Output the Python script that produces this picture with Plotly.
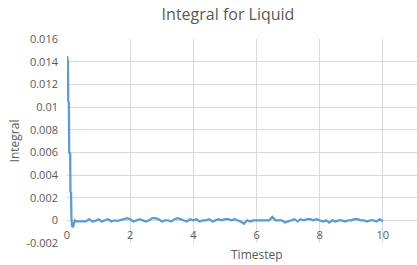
import plotly.graph_objects as go

timestep = [0, 0.01, 0.03, 0.04, 0.06, 0.07, 0.10, 0.11, 0.13, 0.14, 0.16, 0.19, 0.22, 0.25,
            0.3, 0.4, 0.5, 0.6, 0.7, 0.8, 0.9, 1.0, 1.1, 1.2, 1.3, 1.4, 1.5, 1.6, 1.7, 1.8, 1.9,
            2.0, 2.1, 2.2, 2.3, 2.4, 2.5, 2.6, 2.7, 2.8, 2.9, 3.0, 3.1, 3.2, 3.3, 3.4, 3.5, 3.6,
            3.7, 3.8, 3.9, 4.0, 4.1, 4.2, 4.3, 4.4, 4.5, 4.6, 4.7, 4.8, 4.9, 5.0, 5.1, 5.2, 5.3,
            5.4, 5.5, 5.6, 5.7, 5.8, 5.9, 6.0, 6.1, 6.2, 6.3, 6.4, 6.5, 6.6, 6.7, 6.8, 6.9, 7.0,
            7.1, 7.2, 7.3, 7.4, 7.5, 7.6, 7.7, 7.8, 7.9, 8.0, 8.1, 8.2, 8.3, 8.4, 8.5, 8.6, 8.7,
            8.8, 8.9, 9.0, 9.1, 9.2, 9.3, 9.4, 9.5, 9.6, 9.7, 9.8, 9.9, 10.0]

integral = [0.0145, 0.0140, 0.0139, 0.0105, 0.0104, 0.0060, 0.0059, 0.0025, 0.0024, 0.0002,
            -0.0005, -0.0006, -0.0003, 0.0,
            -0.0001, -0.0001, -0.00005, -0.0001, 0.0001, -0.0001, -0.00005, 0.0001, -0.0001,
            0.0, 0.0001, -0.0001, 0.0, -0.00005, 0.0, 0.0001, 0.0002,
            0.0001, -0.0001, 0.0, 0.0001, 0.0, -0.0001, 0.0, 0.0002, 0.0002, 0.0001, -0.0001,
            0.0, 0.0, -0.0001, 0.0001, 0.0002, 0.0001,
            0.0, -0.0001, 0.0001, 0.0, 0.0001, -0.0001, 0.0, 0.0, 0.0001, -0.0001, 0.0, 0.0001,
            0.0, 0.0001, 0.0001, 0.0, 0.0001,
            0.0, -0.0001, -0.0003, 0.0, -0.0001, 0.0, 0.0, 0.0, 0.0, 0.0, 0.0, 0.0003, 0.0, 0.0,
            0.0, -0.0002, -0.0001,
            0.0, 0.0001, -0.0001, 0.0001, 0.0, 0.0001, 0.0001, 0.0, 0.0001, 0.0, -0.0001, 0.0,
            -0.0002, 0.0, -0.0001, 0.0, 0.0,
            -0.0001, 0.0, 0.0, 0.0001, 0.0001, 0.0, 0.0, -0.0001, 0.0, 0.0, -0.0001, 0.0001, -0.0001]

x_tick_vals = [0, 2, 4, 6, 8, 10]
x_tick_text = ["0", "2", "4", "6", "8", "10"]
y_tick_vals = [-0.002, 0, 0.002, 0.004, 0.006, 0.008, 0.01, 0.012, 0.014, 0.016]
y_tick_text = ["-0.002", "0", "0.002", "0.004", "0.006", "0.008", "0.01", "0.012", "0.014", "0.016"]

W, H = 417, 265
FONT = "Open Sans"
GRID = "#d9d9d9"
TXT = "#595959"

fig = go.Figure()
fig.add_trace(go.Scatter(x=timestep, y=integral, mode="lines",
                         line=dict(color="#5B9BD5", width=2.25), showlegend=False))

fig.update_layout(
    width=W, height=H,
    margin=dict(l=67, r=0, t=39, b=22, pad=0),
    paper_bgcolor="white", plot_bgcolor="white",
    font=dict(family=FONT, color=TXT, size=11),
    title=dict(text="Integral for Liquid", x=228 / W, xref="container", xanchor="center",
               y=1 - 14 / H, yref="container", yanchor="middle",
               font=dict(family=FONT, size=16, color=TXT)),
    xaxis=dict(range=[0, 11.08], tickvals=x_tick_vals, ticktext=x_tick_text,
               showgrid=True, gridcolor=GRID, gridwidth=1, zeroline=False,
               showline=False, ticks="", anchor="free", position=0.002 / 0.018,
               ticklabelstandoff=7, tickfont=dict(size=11, color=TXT)),
    yaxis=dict(range=[-0.002, 0.016], tickvals=y_tick_vals, ticktext=y_tick_text,
               showgrid=True, gridcolor=GRID, gridwidth=1, zeroline=True,
               zerolinecolor=GRID, zerolinewidth=1, ticks="", ticklabelstandoff=8,
               tickfont=dict(size=11, color=TXT),
               title=dict(text="Integral", standoff=4, font=dict(size=12, color=TXT))),
    annotations=[dict(text="Timestep", xref="paper", yref="paper",
                      x=(257 - 67) / (W - 67), y=0, yshift=-11, yanchor="middle",
                      xanchor="center", showarrow=False,
                      font=dict(family=FONT, size=12, color=TXT))],
)

fig.write_html("out.html")
